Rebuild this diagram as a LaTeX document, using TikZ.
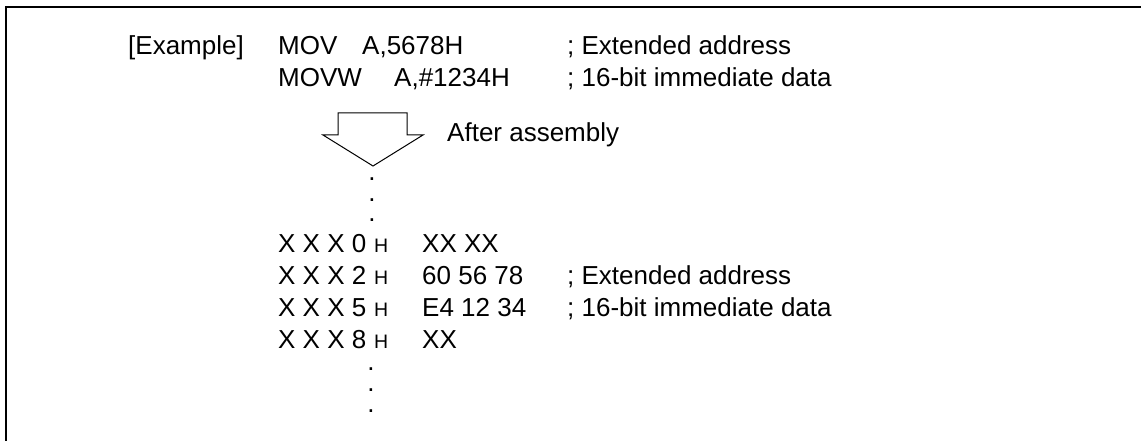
\documentclass[tikz,border=0pt]{standalone}
\usepackage{fontspec}
\setmainfont{Liberation Sans}
\begin{document}
\begin{tikzpicture}[x=1pt,y=-1pt,
  txt/.style={anchor=base west, inner sep=0pt, font=\fontsize{26}{30}\selectfont},
  suf/.style={anchor=base west, inner sep=0pt, font=\fontsize{19.5}{22}\selectfont},
  dotmark/.style={anchor=base, inner sep=0pt, text height=3pt, text depth=0pt,
    font=\fontsize{26}{30}\selectfont},
  frame/.style={line width=2pt},
  bigarrow/.style={line width=1pt, line join=miter}]
\useasboundingbox (0,0) rectangle (1141,441);
% open frame: only the top and left edges fall inside the page
\draw[frame] (5.5,441) -- (5.5,7) -- (1141,7);

% source lines
\node[txt] (ex)  at (128,55) {[Example]};
\node[txt] (op1) at (278,55) {MOV};
\node[txt] (ar1) at (362,55) {A,5678H};
\node[txt] (cm1) at (567,55) {; Extended address};
\node[txt] (op2) at (278,87) {MOVW};
\node[txt] (ar2) at (394,87) {A,\#1234H};
\node[txt] (cm2) at (567,87) {; 16-bit immediate data};

% hollow down arrow
\draw[bigarrow] (338,135) -- (338,113) -- (407,113) -- (407,135)
  -- (423,135) -- (373,166) -- (323,135) -- cycle;
\node[txt] (asm) at (447,142) {After assembly};

% leading dots
\node[dotmark] (d1) at (372,180) {.};
\node[dotmark] (d2) at (372,201) {.};
\node[dotmark] (d3) at (372,222) {.};

% object code listing
\node[txt] (a0) at (278,252) {X X X 0};
\node[suf] (h0) at (374,252) {H};
\node[txt] (b0) at (422,252) {XX XX};

\node[txt] (a2) at (278,284) {X X X 2};
\node[suf] (h2) at (374,284) {H};
\node[txt] (b2) at (422,284) {60 56 78};
\node[txt] (c2) at (567,284) {; Extended address};

\node[txt] (a5) at (278,316) {X X X 5};
\node[suf] (h5) at (374,316) {H};
\node[txt] (b5) at (422,316) {E4 12 34};
\node[txt] (c5) at (567,316) {; 16-bit immediate data};

\node[txt] (a8) at (278,348) {X X X 8};
\node[suf] (h8) at (374,348) {H};
\node[txt] (b8) at (422,348) {XX};

% trailing dots
\node[dotmark] (e1) at (371,370) {.};
\node[dotmark] (e2) at (371,391) {.};
\node[dotmark] (e3) at (371,412) {.};
\end{tikzpicture}
\end{document}
